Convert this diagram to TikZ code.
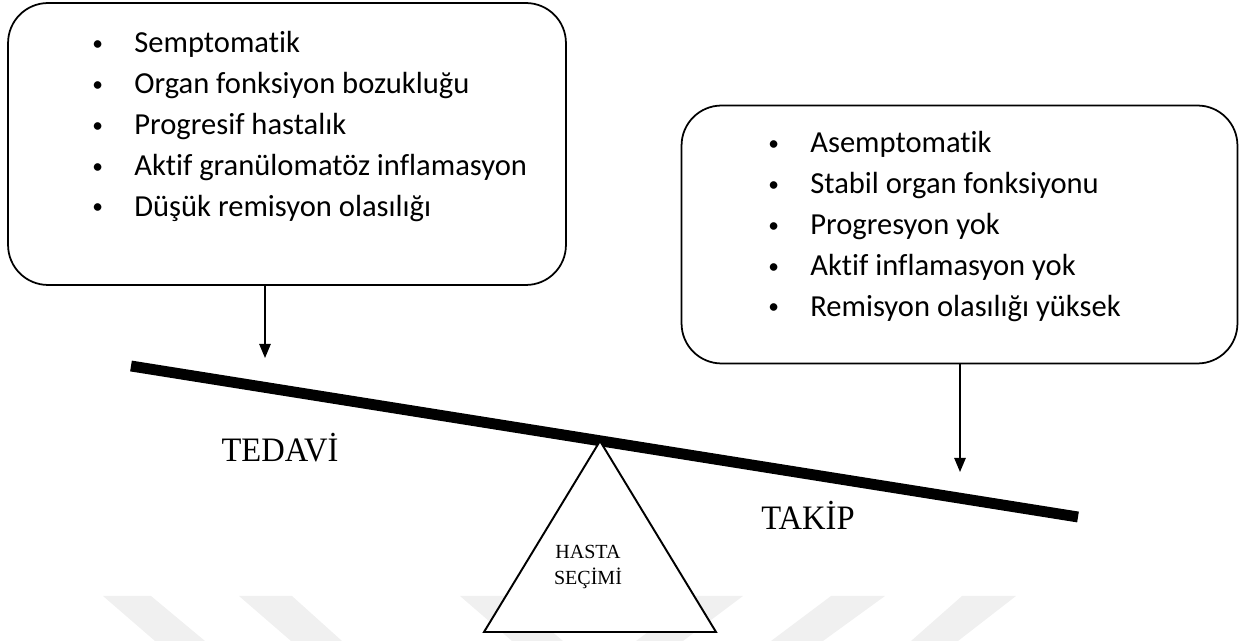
\documentclass[tikz,border=0pt]{standalone}
\usepackage{fontspec}
\setmainfont{Liberation Serif}
\newfontfamily\boxfont[Ligatures={NoCommon}]{Carlito}
\usetikzlibrary{arrows.meta}

\tikzset{
  listbox/.style={draw,rounded corners=0.8cm,line width=1pt,inner sep=0pt},
  listtext/.style={anchor=north west,inner sep=0pt,font=\boxfont\fontsize{17.4}{23.25}\selectfont},
  weight/.style={-{Triangle[length=8pt,width=6.5pt]},line width=0.8pt},
  sidelabel/.style={anchor=base,font=\fontsize{19.5}{23}\selectfont,xscale=0.95},
  fadeband/.style={fill=black!6,draw=none}
}

\newcommand{\bulletrow}[1]{\makebox[0.84cm][l]{\raisebox{0.08em}{\scalebox{0.7}{\textbullet}}}#1\\}

\begin{document}
\begin{tikzpicture}[x=0.02cm,y=-0.02cm]
\useasboundingbox (0,0) rectangle (1248,641);

% faint marks at the bottom
\fill[fadeband] (103,596) -- (151,596) -- (205,641) -- (155,641) -- cycle;
\fill[fadeband] (239,596) -- (292,596) -- (342,641) -- (291,641) -- cycle;
\fill[fadeband] (460,596) -- (510,596) -- (563,641) -- (512,641) -- cycle;
\fill[fadeband] (696,596) -- (743,596) -- (683,641) -- (636,641) -- cycle;
\fill[fadeband] (831,596) -- (885,596) -- (823,641) -- (771,641) -- cycle;
\fill[fadeband] (962,596) -- (1016,596) -- (958,641) -- (911,641) -- cycle;

% left box
\node[listbox,minimum width=11.16cm,minimum height=5.64cm] (treat) at (287,144) {};
\node[listtext] (treatlist) at (92,24) {\begin{tabular}{@{}l@{}}
\bulletrow{Semptomatik}
\bulletrow{Organ fonksiyon bozukluğu}
\bulletrow{Progresif hastalık}
\bulletrow{Aktif granülomatöz inflamasyon}
\bulletrow{Düşük remisyon olasılığı}
\end{tabular}};

% right box
\node[listbox,minimum width=11.12cm,minimum height=5.16cm] (follow) at (959.5,234.5) {};
\node[listtext] (followlist) at (768,124) {\begin{tabular}{@{}l@{}}
\bulletrow{Asemptomatik}
\bulletrow{Stabil organ fonksiyonu}
\bulletrow{Progresyon yok}
\bulletrow{Aktif inflamasyon yok}
\bulletrow{Remisyon olasılığı yüksek}
\end{tabular}};

% beam and support
\draw[line width=6.2pt] (131,366) -- (1078,517);
\draw[fill=white,line width=1.1pt] (600,441) -- (716,632) -- (484,632) -- cycle;
\node[font=\fontsize{11.4}{15.3}\selectfont,align=center] (choice) at (588,567) {HASTA\\SEÇİMİ};

% weights
\coordinate (treattip) at (265,358);
\coordinate (followtip) at (960,472);
\draw[weight] (treat.south -| treattip) -- (treattip);
\draw[weight] (follow.south -| followtip) -- (followtip);

\node[sidelabel] (tedavi) at (280,462) {TEDAVİ};
\node[sidelabel] (takip) at (808,530) {TAKİP};

\end{tikzpicture}
\end{document}
